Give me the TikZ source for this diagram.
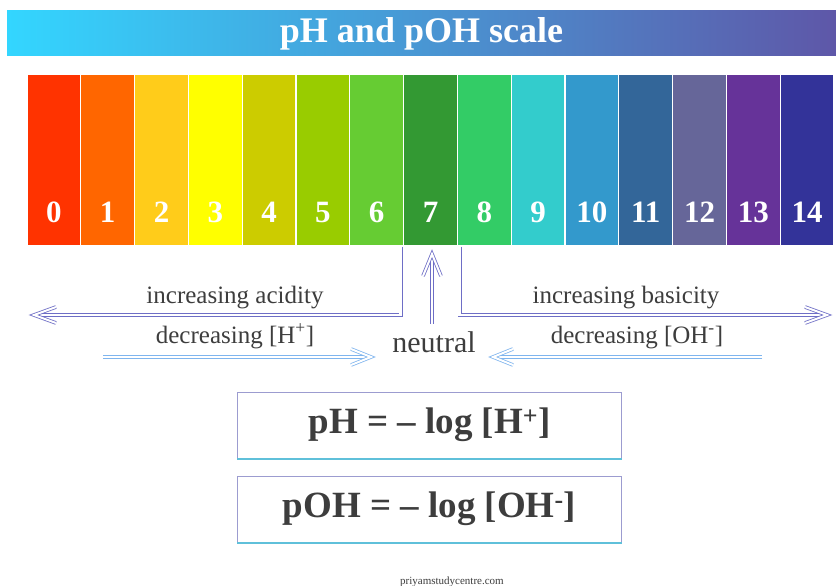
\documentclass[tikz,border=0pt]{standalone}
\usepackage{fontspec}
\setmainfont{Liberation Serif}
\usetikzlibrary{calc}

\definecolor{ph0}{HTML}{FF3300}
\definecolor{ph1}{HTML}{FF6600}
\definecolor{ph2}{HTML}{FFCC1A}
\definecolor{ph3}{HTML}{FFFF00}
\definecolor{ph4}{HTML}{CCCC00}
\definecolor{ph5}{HTML}{99CC00}
\definecolor{ph6}{HTML}{66CC33}
\definecolor{ph7}{HTML}{339933}
\definecolor{ph8}{HTML}{33CC66}
\definecolor{ph9}{HTML}{33CCCC}
\definecolor{ph10}{HTML}{3399CC}
\definecolor{ph11}{HTML}{336699}
\definecolor{ph12}{HTML}{666699}
\definecolor{ph13}{HTML}{663399}
\definecolor{ph14}{HTML}{333399}
\definecolor{titleL}{HTML}{33D6FF}
\definecolor{titleR}{HTML}{5E57A8}
\definecolor{arrowc}{HTML}{6E6EC6}
\definecolor{lightc}{HTML}{7FB5EE}
\definecolor{textc}{HTML}{3D3D3D}
\definecolor{framec}{HTML}{9C9CD0}
\definecolor{framebot}{HTML}{5FC0DA}

\tikzset{
  titlebar/.style={shade, left color=titleL, right color=titleR, minimum width=829pt,
    minimum height=45pt, inner sep=0pt, text=white,
    font=\fontsize{36}{40}\selectfont\bfseries},
  phbar/.style={rectangle, draw=white, line width=1.3pt, minimum width=53.8pt,
    minimum height=172pt, inner sep=0pt},
  phnum/.style={anchor=base, text=white, inner sep=0pt,
    font=\fontsize{31}{36}\selectfont\bfseries},
  lbl/.style={anchor=base, text=textc, inner sep=0pt, font=\fontsize{25}{30}\selectfont},
  neut/.style={anchor=base, text=textc, inner sep=0pt, font=\fontsize{30}{34}\selectfont},
  % hollow (double-line) connectors and their open chevron heads
  dbl/.style={draw=arrowc, double=white, double distance=2.6pt, line width=0.9pt},
  dbllight/.style={draw=lightc, double=white, double distance=2.6pt, line width=0.9pt},
  chev/.style={dbl, double distance=2pt, line width=0.8pt, line join=miter},
  chevlight/.style={dbllight, double distance=2pt, line width=0.8pt, line join=miter},
  formula/.style={draw=framec, line width=1pt, minimum width=384pt, minimum height=66pt,
    inner sep=0pt, text=textc, font=\fontsize{37}{40}\selectfont\bfseries},
  framefoot/.style={draw=framebot, line width=2pt},
  foot/.style={text=textc, inner sep=0pt, font=\fontsize{11}{12}\selectfont},
}

\begin{document}
\begin{tikzpicture}[x=1pt, y=-1pt]
\useasboundingbox (0,0) rectangle (836,586);
\fill[white] (0,0) rectangle (836,586);

% title banner
\node[titlebar] (title) at (421.5,33.5) {pH and pOH scale};

% the coloured pH scale with its numbers
\foreach \i in {0,...,14} {
  \node[phbar, fill=ph\i] (b\i) at (27+\i*53.8+26.9,160) {};
  \node[phnum] (n\i) at (b\i.center |- 0,222) {\i};
}

% labels
\node[lbl] (acid) at (235,303) {increasing acidity};
\node[lbl] (hdec) at (235,343) {decreasing [H\textsuperscript{+}]};
\node[lbl] (basic) at (626,303) {increasing basicity};
\node[lbl] (ohdec) at (637,343) {decreasing [OH\textsuperscript{-}]};
\node[neut] (neutral) at (434,352) {neutral};

% end points of the arrows (inner vertex of each head)
\coordinate (acidEnd) at (34,315);
\coordinate (baseEnd) at (827,315);
\coordinate (neutTip) at (432,254);
\coordinate (hS) at (103,357);
\coordinate (hE) at (371,357);
\coordinate (oS) at (762,357);
\coordinate (oE) at (493,357);

% shafts
\draw[dbl, shorten >=4pt] ($(b6.south east)+(-3.5,0)$) |- (acidEnd);
\draw[dbl, shorten >=4pt] ($(b8.south west)+(3,0)$) |- (baseEnd);
\draw[dbl, shorten >=4pt] ($(neutral.north)+(-2,-7)$) -- (neutTip);
\draw[dbllight, shorten >=4pt] (hS) -- (hE);
\draw[dbllight, shorten >=4pt] (oS) -- (oE);

% open heads
\draw[chev] ($(acidEnd)+(22,-8)$) -- (acidEnd) -- ($(acidEnd)+(22,8)$);
\draw[chev] ($(baseEnd)+(-22,-8)$) -- (baseEnd) -- ($(baseEnd)+(-22,8)$);
\draw[chev] ($(neutTip)+(-9,22)$) -- (neutTip) -- ($(neutTip)+(9,22)$);
\draw[chevlight] ($(hE)+(-20,-8)$) -- (hE) -- ($(hE)+(-20,8)$);
\draw[chevlight] ($(oE)+(20,-8)$) -- (oE) -- ($(oE)+(20,8)$);

% formula boxes
\node[formula] (phbox) at (429.5,425) {pH = – log [H\textsuperscript{+}]};
\node[formula] (pohbox) at (429.5,509) {pOH = – log [OH\textsuperscript{-}]};
\draw[framefoot] (phbox.south west) -- (phbox.south east);
\draw[framefoot] (pohbox.south west) -- (pohbox.south east);

% footer
\node[foot] (site) at (452,582) {priyamstudycentre.com};
\end{tikzpicture}
\end{document}
